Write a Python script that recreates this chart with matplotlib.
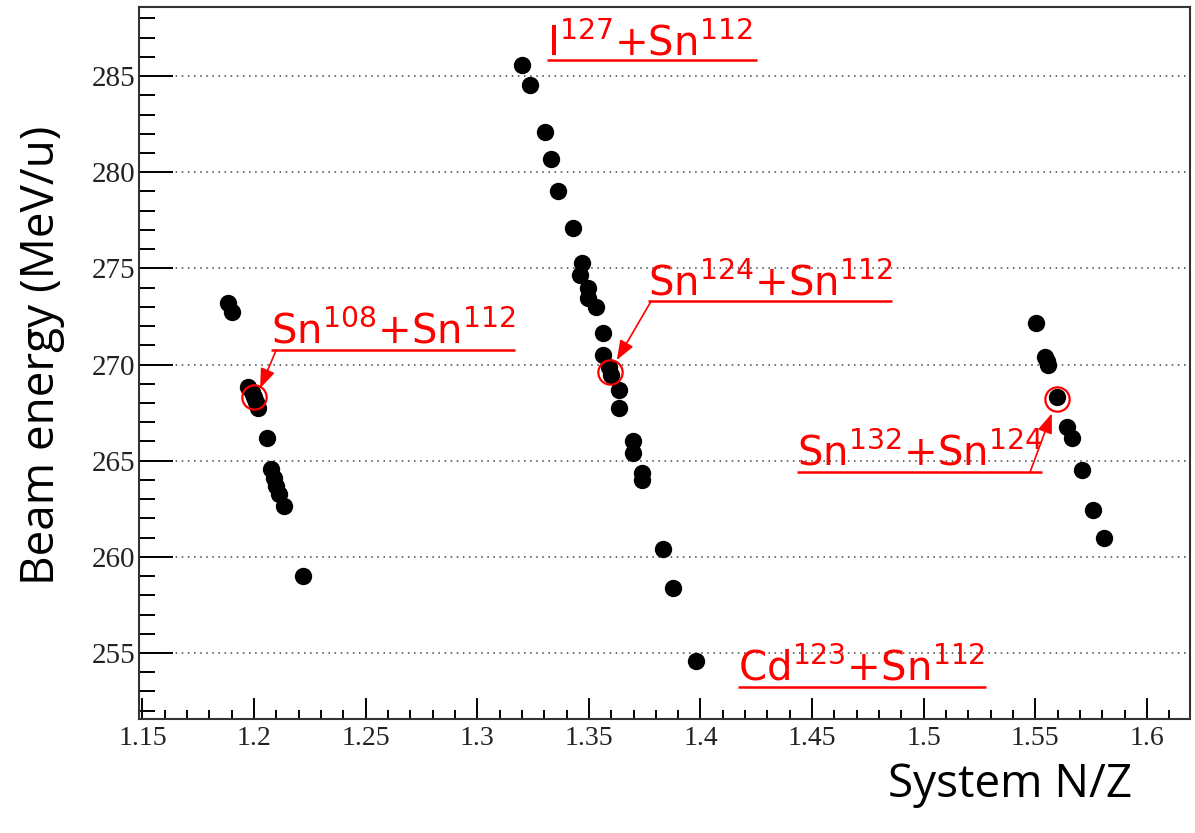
import numpy as np
import matplotlib
matplotlib.use("Agg")
import matplotlib.pyplot as plt
from matplotlib.ticker import MultipleLocator, FormatStrFormatter

plt.rcParams['mathtext.default'] = 'regular'

# system N/Z and beam energy (MeV/u)
nz_sn108 = [1.1885, 1.1900, 1.1974, 1.1990, 1.2000, 1.2009, 1.2019, 1.2060,
            1.2075, 1.2088, 1.2100, 1.2112, 1.2134, 1.2221]
e_sn108 = [273.21, 272.71, 268.81, 268.55, 268.30, 268.06, 267.75, 266.16,
           264.55, 264.10, 263.70, 263.25, 262.62, 259.00]

nz_mid = [1.3199, 1.3237, 1.3304, 1.3329, 1.3363, 1.3431, 1.3468, 1.3460,
          1.3498, 1.3498, 1.3532, 1.3565, 1.3565, 1.3590, 1.3597, 1.3637,
          1.3637, 1.3699, 1.3699, 1.3737, 1.3737, 1.3834, 1.3879, 1.3980]
e_mid = [285.57, 284.53, 282.10, 280.67, 279.02, 277.08, 275.26, 274.65,
         273.96, 273.44, 273.00, 271.62, 270.49, 269.85, 269.45, 268.67,
         267.72, 266.00, 265.40, 264.34, 264.00, 260.39, 258.39, 254.58]

nz_sn132 = [1.5503, 1.5544, 1.5552, 1.5559, 1.5599, 1.5644, 1.5663, 1.5708,
            1.5757, 1.5808]
e_sn132 = [272.17, 270.40, 270.20, 270.00, 268.29, 266.76, 266.16, 264.51,
           262.43, 260.96]

# highlighted systems
hl_nz = [1.2000, 1.3595, 1.5599]
hl_e = [268.29, 269.62, 268.20]

labels = [r'I$^{127}$+Sn$^{112}$', r'Sn$^{124}$+Sn$^{112}$', r'Sn$^{108}$+Sn$^{112}$',
          r'Sn$^{132}$+Sn$^{124}$', r'Cd$^{123}$+Sn$^{112}$']
label_x = [1.3313, 1.3765, 1.2075, 1.4431, 1.4168]
label_y = [286.09, 273.61, 271.10, 264.77, 253.56]
line_y = [285.83, 273.30, 270.75, 264.39, 253.21]
line_x2 = [1.4253, 1.4858, 1.3169, 1.5529, 1.5277]

# arrows: from underline to circle
arr_from = [(1.3779, 273.30), (1.2099, 270.75), (1.5476, 264.39)]
arr_to = [(1.3625, 270.23), (1.2027, 268.76), (1.5574, 267.46)]

nz = np.array(nz_sn108 + nz_mid + nz_sn132)
energy = np.array(e_sn108 + e_mid + e_sn132)

fig = plt.figure(figsize=(11.95, 8.33), dpi=100)
ax = fig.add_axes([0.1166, 0.1369, 0.8792, 0.8547])

ax.plot(nz, energy, 'o', color='black', markersize=12.5, markeredgewidth=0, zorder=3)
ax.plot(hl_nz, hl_e, 'o', markerfacecolor='none', markeredgecolor='red',
        markersize=17.5, markeredgewidth=1.6, zorder=4)

red = '#ff0000'
for i in range(len(labels)):
    ax.text(label_x[i], label_y[i], labels[i], color=red, fontsize=29,
            family='DejaVu Sans', va='baseline', ha='left', zorder=5)
    ax.plot([label_x[i], line_x2[i]], [line_y[i], line_y[i]], color=red, lw=1.8,
            solid_capstyle='butt', zorder=5)
for a, b in zip(arr_from, arr_to):
    ax.annotate('', xy=b, xytext=a,
                arrowprops=dict(arrowstyle='-|>,head_length=1.2,head_width=0.45',
                                color=red, lw=1.2, shrinkA=0, shrinkB=0), zorder=5)

ax.set_xlim(1.1486, 1.6193)
ax.set_ylim(251.57, 288.59)

ax.xaxis.set_major_locator(MultipleLocator(0.05))
ax.xaxis.set_minor_locator(MultipleLocator(0.01))
ax.yaxis.set_major_locator(MultipleLocator(5))
ax.yaxis.set_minor_locator(MultipleLocator(1))
ax.xaxis.set_major_formatter(plt.FuncFormatter(lambda v, p: ('%.2f' % v).rstrip('0').rstrip('.')))
ax.yaxis.set_major_formatter(FormatStrFormatter('%d'))

ax.grid(axis='y', which='major', color='#444444', linestyle=(0, (1, 3)), linewidth=1.1)
ax.set_axisbelow(True)

ax.tick_params(axis='x', which='major', direction='in', length=15, width=1.4, pad=5,
               labelsize=20, labelfontfamily='Liberation Serif', labelcolor='#222222')
ax.tick_params(axis='x', which='minor', direction='in', length=6.5, width=1.4)
ax.tick_params(axis='y', which='major', direction='in', length=24.5, width=1.4, pad=3,
               labelsize=21, labelfontfamily='Liberation Serif', labelcolor='#222222')
ax.tick_params(axis='y', which='minor', direction='in', length=11.3, width=1.4)

for s in ax.spines.values():
    s.set_linewidth(1.5)
    s.set_color('#333333')

fig.text(42 / 1195, 1 - 355 / 833, 'Beam energy (MeV/u)', rotation=90, fontsize=33,
         family='Open Sans', ha='center', va='center')
fig.text(1010 / 1195, 1 - 785 / 833, 'System N/Z', fontsize=33,
         family='Open Sans', ha='center', va='center')

fig.savefig('out.png', dpi=100)
